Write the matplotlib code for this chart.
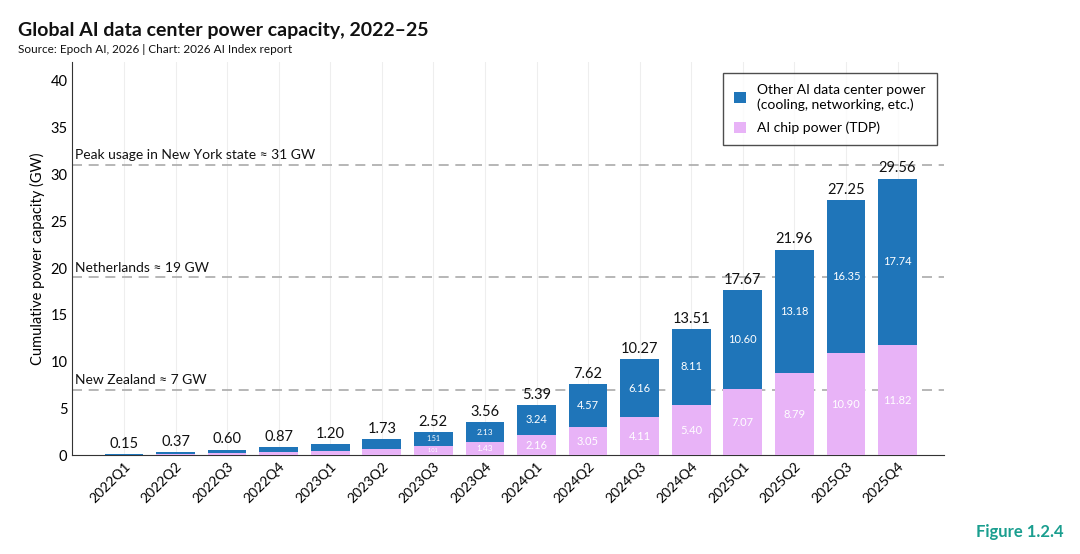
import matplotlib
matplotlib.use("Agg")
import matplotlib.pyplot as plt
import numpy as np

quarters = ["2022Q1","2022Q2","2022Q3","2022Q4","2023Q1","2023Q2","2023Q3","2023Q4",
            "2024Q1","2024Q2","2024Q3","2024Q4","2025Q1","2025Q2","2025Q3","2025Q4"]
chip = [0.06,0.15,0.24,0.35,0.48,0.69,1.01,1.43,2.16,3.05,4.11,5.40,7.07,8.79,10.90,11.82]
other = [0.09,0.22,0.36,0.52,0.72,1.04,1.51,2.13,3.24,4.57,6.16,8.11,10.60,13.18,16.35,17.74]
totals = [0.15,0.37,0.60,0.87,1.20,1.73,2.52,3.56,5.39,7.62,10.27,13.51,17.67,21.96,27.25,29.56]
ref_vals = [31, 19, 7]
ref_labels = ["Peak usage in New York state ≈ 31 GW", "Netherlands ≈ 19 GW", "New Zealand ≈ 7 GW"]

plt.rcParams['font.family'] = ['Lato', 'DejaVu Sans']
BLUE = "#1f75b9"
PINK = "#e8b3f7"

fig = plt.figure(figsize=(10.8, 5.54), dpi=100)
ax = fig.add_axes([0.067, 0.178, 0.807, 0.71])
x = np.arange(len(quarters))
ax.bar(x, chip, 0.75, color=PINK, label="AI chip power (TDP)", zorder=3)
ax.bar(x, other, 0.75, bottom=chip, color=BLUE, label="Other AI data center power\n(cooling, networking, etc.)", zorder=3)

for i in range(len(x)):
    ax.text(x[i], totals[i] + 0.35, f"{totals[i]:.2f}", ha="center", va="bottom", fontsize=10.5, color="#111")
    if i >= 6:
        fs = 6 if i <= 7 else 8
        ax.text(x[i], chip[i] + other[i] / 2, f"{other[i]:.2f}", ha="center", va="center", fontsize=fs if i > 6 else 5, color="white", zorder=4)
        ax.text(x[i], chip[i] / 2, f"{chip[i]:.2f}", ha="center", va="center", fontsize=fs if i > 6 else 4, color="white", zorder=4)

for v, lab in zip(ref_vals, ref_labels):
    ax.axhline(v, color="#aaaaaa", ls=(0, (6, 4)), lw=1.2, zorder=2)
    ax.text(-0.95, v + 0.4, lab, ha="left", va="bottom", fontsize=10, color="#111")

ax.set_xlim(-1, len(x) - 0.1)
ax.set_ylim(0, 42)
ax.set_yticks(range(0, 41, 5))
ax.set_xticks(x)
ax.set_xticklabels(quarters, rotation=45, ha="right", rotation_mode="anchor", fontsize=10)
ax.tick_params(axis="y", labelsize=10.5, length=0)
ax.tick_params(axis="x", length=0)
ax.set_ylabel("Cumulative power capacity (GW)", fontsize=10.5)
ax.grid(axis="x", color="#eeeeee", lw=0.8, zorder=0)
for s in ["top", "right"]:
    ax.spines[s].set_visible(False)
ax.spines["left"].set_color("#333")
ax.spines["bottom"].set_color("#333")

h, l = ax.get_legend_handles_labels()
leg = ax.legend(h[::-1], l[::-1], loc="upper right", bbox_to_anchor=(1.0, 0.99), fontsize=10,
                frameon=True, fancybox=False, edgecolor="#222", handlelength=0.9, handleheight=0.9,
                borderpad=0.8, labelspacing=0.8)
leg.get_frame().set_linewidth(1.0)

fig.text(0.017, 0.935, "Global AI data center power capacity, 2022–25", fontsize=14, fontweight="bold", color="#111")
fig.text(0.017, 0.905, "Source: Epoch AI, 2026 | Chart: 2026 AI Index report", fontsize=8.5, color="#111")
fig.text(0.985, 0.03, "Figure 1.2.4", fontsize=12, fontweight="bold", color="#1a9e8f", ha="right")

fig.savefig("out.png", dpi=100)
